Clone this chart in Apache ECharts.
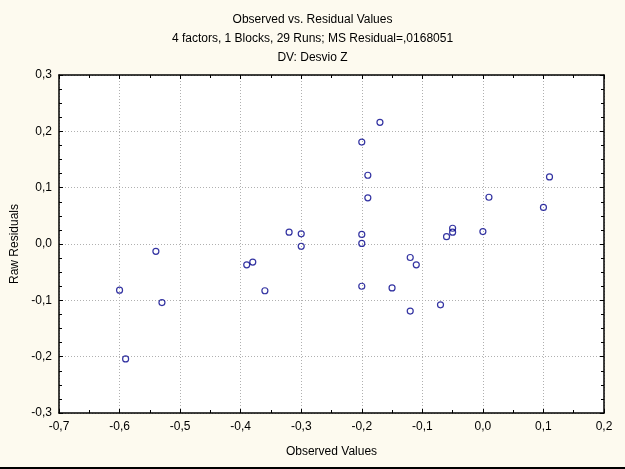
<!DOCTYPE html>
<html>
<head>
<meta charset="utf-8">
<script src="https://cdn.jsdelivr.net/npm/echarts@6/dist/echarts.min.js"></script>
<style>
    html,body{margin:0;padding:0;background:#fdfaef;}
    #myChart{width:625px;height:467px;}
    #edge{width:625px;height:2px;background:#000;}
</style>
</head>
<body>
<div id="myChart"></div>
<div id="edge"></div>
<script>
    var observed = [-0.32, -0.30, -0.30, -0.54, -0.17, -0.20, -0.19, -0.19, -0.20, -0.20,
                    -0.06, -0.05, -0.05, 0.00, 0.01, 0.11, 0.10, -0.12, -0.60, -0.53,
                    -0.59, -0.39, -0.38, -0.36, -0.11, -0.20, -0.15, -0.07, -0.12];
    var residuals = [0.021, 0.018, -0.004, -0.013, 0.216, 0.181, 0.122, 0.082, 0.017, 0.001,
                     0.013, 0.028, 0.021, 0.022, 0.083, 0.119, 0.065, -0.024, -0.082, -0.104,
                     -0.204, -0.037, -0.032, -0.083, -0.037, -0.075, -0.078, -0.108, -0.119];
    var xTicks = [-0.7, -0.6, -0.5, -0.4, -0.3, -0.2, -0.1, 0.0, 0.1, 0.2];
    var yTicks = [-0.3, -0.2, -0.1, 0.0, 0.1, 0.2, 0.3];
    var titles = ['Observed vs. Residual Values',
                  '4 factors, 1 Blocks, 29 Runs; MS Residual=,0168051',
                  'DV: Desvio Z'];

    var fmt = function(v){ return v.toFixed(1).replace('.', ','); };
    var font = 'Liberation Sans, Arial, sans-serif';
    var points = observed.map(function(x, i){ return [x, residuals[i]]; });

    var titleTops = [9, 28, 47];
    var option = {
        backgroundColor: '#fdfaef',
        animation: false,
        title: titles.map(function(t, i){
            return {text: t, left: 'center', top: titleTops[i],
                    textStyle: {fontFamily: font, fontSize: 12, fontWeight: 'normal', color: '#000'}};
        }),
        grid: {left: 59, right: 21, top: 75, bottom: 54, show: true, backgroundColor: '#fff', borderWidth: 0},
        xAxis: [{
            type: 'value', min: xTicks[0], max: xTicks[xTicks.length - 1], interval: 0.1,
            name: 'Observed Values', nameLocation: 'middle', nameGap: 33,
            nameTextStyle: {fontFamily: font, fontSize: 12, color: '#000'},
            axisLine: {onZero: false, lineStyle: {color: '#000', width: 1.5}},
            axisTick: {inside: true, length: 4, lineStyle: {color: '#000'}},
            minorTick: {show: true, splitNumber: 2, length: 3, lineStyle: {color: '#000'}},
            axisLabel: {formatter: fmt, fontFamily: font, fontSize: 12, color: '#000', margin: 8},
            splitLine: {show: true, lineStyle: {color: '#b0b0b0', type: [1, 2]}}
        }, {
            type: 'value', position: 'top', min: xTicks[0], max: xTicks[xTicks.length - 1], interval: 0.1,
            axisLine: {onZero: false, lineStyle: {color: '#000', width: 1.5}},
            axisTick: {inside: true, length: 4, lineStyle: {color: '#000'}},
            minorTick: {show: true, splitNumber: 2, length: 3, lineStyle: {color: '#000'}},
            axisLabel: {show: false}, splitLine: {show: false}
        }],
        yAxis: [{
            type: 'value', min: yTicks[0], max: yTicks[yTicks.length - 1], interval: 0.1,
            name: 'Raw Residuals', nameLocation: 'middle', nameGap: 38,
            nameTextStyle: {fontFamily: font, fontSize: 12, color: '#000'},
            axisLine: {onZero: false, lineStyle: {color: '#000', width: 1.5}},
            axisTick: {inside: true, length: 4, lineStyle: {color: '#000'}},
            minorTick: {show: true, splitNumber: 4, length: 3, lineStyle: {color: '#000'}},
            axisLabel: {formatter: fmt, fontFamily: font, fontSize: 12, color: '#000', margin: 7},
            splitLine: {show: true, lineStyle: {color: '#b0b0b0', type: [1, 2]}}
        }, {
            type: 'value', position: 'right', min: yTicks[0], max: yTicks[yTicks.length - 1], interval: 0.1,
            axisLine: {onZero: false, lineStyle: {color: '#000', width: 1.5}},
            axisTick: {inside: true, length: 4, lineStyle: {color: '#000'}},
            minorTick: {show: true, splitNumber: 4, length: 3, lineStyle: {color: '#000'}},
            axisLabel: {show: false}, splitLine: {show: false}
        }],
        series: [{
            type: 'scatter',
            data: points,
            symbol: 'circle',
            symbolSize: 6,
            itemStyle: {color: 'rgba(0,0,0,0)', borderColor: '#00008b', borderWidth: 1.2}
        }]
    };

    var myChart = echarts.init(document.getElementById('myChart'));
    myChart.setOption(option);
</script>
</body>
</html>
